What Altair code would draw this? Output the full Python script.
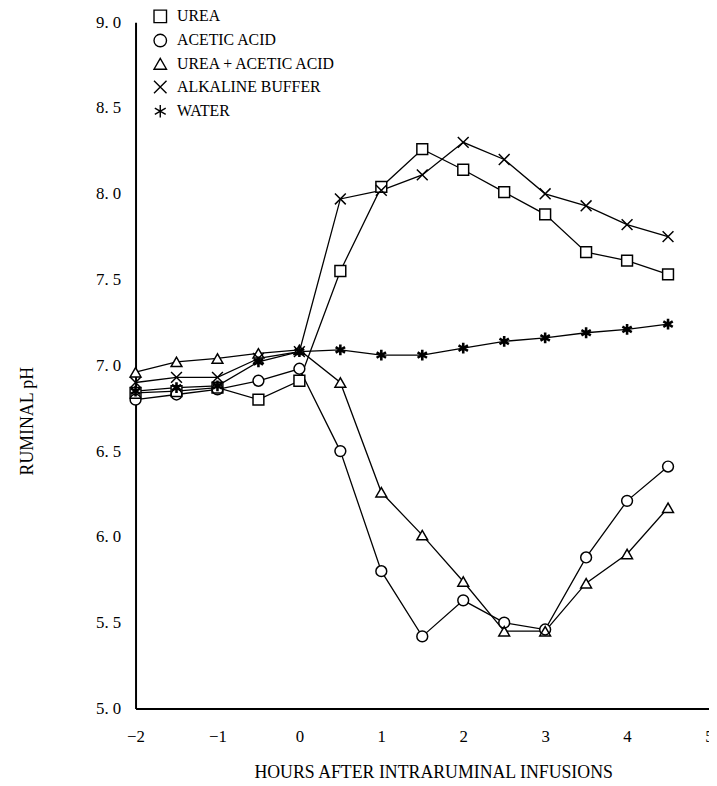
import altair as alt
import pandas as pd

hours = [-2, -1.5, -1, -0.5, 0, 0.5, 1, 1.5, 2, 2.5, 3, 3.5, 4, 4.5]
series_names = ["UREA", "ACETIC ACID", "UREA + ACETIC ACID", "ALKALINE BUFFER", "WATER"]

urea = [6.84, 6.85, 6.87, 6.80, 6.91, 7.55, 8.04, 8.26, 8.14, 8.01, 7.88, 7.66, 7.61, 7.53]
acetic = [6.80, 6.83, 6.86, 6.91, 6.98, 6.50, 5.80, 5.42, 5.63, 5.50, 5.46, 5.88, 6.21, 6.41]
urea_acetic = [6.96, 7.02, 7.04, 7.07, 7.09, 6.90, 6.26, 6.01, 5.74, 5.45, 5.45, 5.73, 5.90, 6.17]
alkaline = [6.90, 6.93, 6.93, 7.04, 7.08, 7.97, 8.02, 8.11, 8.30, 8.20, 8.00, 7.93, 7.82, 7.75]
water = [6.85, 6.87, 6.88, 7.02, 7.08, 7.09, 7.06, 7.06, 7.10, 7.14, 7.16, 7.19, 7.21, 7.24]

x_ticks = [-2, -1, 0, 1, 2, 3, 4, 5]
y_ticks = [5.0, 5.5, 6.0, 6.5, 7.0, 7.5, 8.0, 8.5, 9.0]

rows = []
for name, vals in zip(series_names, [urea, acetic, urea_acetic, alkaline, water]):
    for h, v in zip(hours, vals):
        rows.append({"hours": h, "ph": v, "series": name})
df = pd.DataFrame(rows)

FONT = "Liberation Serif"
cross_path = "M-1,-1L1,1M1,-1L-1,1"
aster_path = "M0,-1L0,1M-0.87,-0.5L0.87,0.5M-0.87,0.5L0.87,-0.5"
shape_scale = alt.Scale(domain=series_names,
                        range=["square", "circle", "triangle-up", cross_path, aster_path])

x_enc = alt.X("hours:Q", scale=alt.Scale(domain=[-2, 5], nice=False, zero=False),
              axis=alt.Axis(values=x_ticks, format="d", title="HOURS AFTER INTRARUMINAL INFUSIONS",
                            labelFlush=False, ticks=False, labelPadding=20, labelFontSize=17,
                            titlePadding=20, titleFontSize=18, titleX=301))
y_enc = alt.Y("ph:Q", scale=alt.Scale(domain=[5, 9], nice=False, zero=False),
              axis=alt.Axis(values=y_ticks, format=".1f", title="RUMINAL pH",
                            labelExpr="replace(format(datum.value, '.1f'), '.', '. ')",
                            ticks=False, labelPadding=15, labelFontSize=17,
                            titleFontSize=18, titleX=-104, titleY=403,
                            titleAngle=270, titleAlign="center", titleBaseline="alphabetic"))

base = alt.Chart(df)
lines = base.mark_line(color="black", strokeWidth=1.3).encode(
    x=x_enc, y=y_enc, detail="series:N", order="hours:Q")

backs = base.mark_point(filled=True, color="white", size=120, opacity=1).encode(
    x=x_enc, y=y_enc,
    shape=alt.Shape("series:N", scale=shape_scale, legend=None),
)

points = base.mark_point(filled=False, color="black", size=120, opacity=1).encode(
    x=x_enc, y=y_enc,
    shape=alt.Shape("series:N", scale=shape_scale, sort=series_names,
                    legend=alt.Legend(title=None, orient="none", legendX=17, legendY=-14,
                                      labelFont=FONT, labelFontSize=16, labelColor="black",
                                      labelLimit=400, symbolSize=160, symbolStrokeWidth=1.4,
                                      rowPadding=4.5, labelOffset=9)),
    strokeWidth=alt.condition(alt.datum.series == "WATER", alt.value(2.6), alt.value(1.5)),
)

chart = alt.layer(lines, backs, points).resolve_legend(shape="independent").properties(
    width=580, height=694,
    autosize=alt.AutoSizeParams(type="none"),
    padding={"left": 129, "top": 10, "right": 0, "bottom": 70},
).configure_view(stroke=None).configure_axis(
    grid=False, domainColor="black", domainWidth=2, labelColor="black", titleColor="black",
    labelFont=FONT, titleFont=FONT, titleFontWeight="normal",
)

chart.save("out.html", embed_options={"renderer": "svg", "actions": False})
